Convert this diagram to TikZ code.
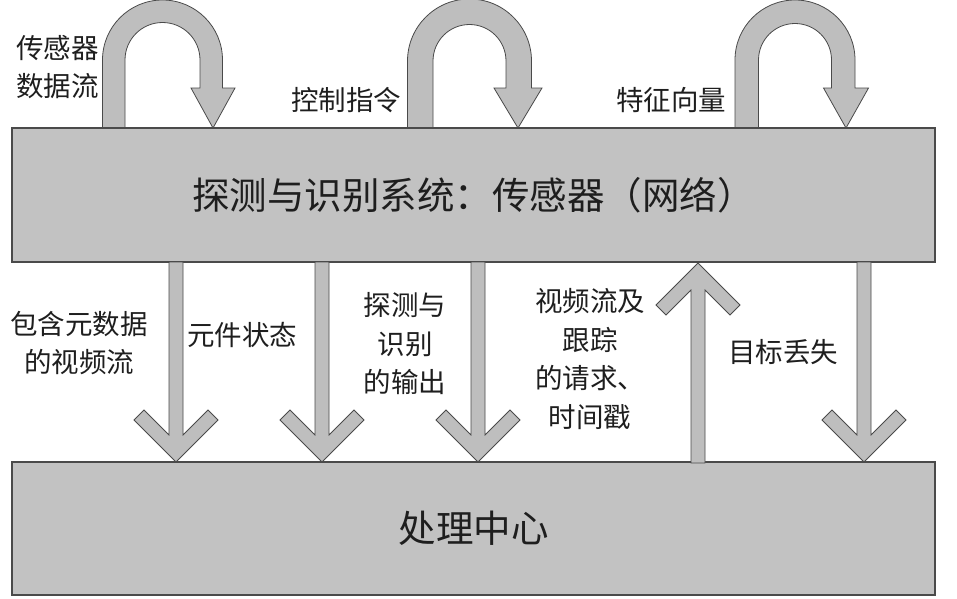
\documentclass[tikz,border=0pt]{standalone}
\usepackage{fontspec}
\setmainfont{Noto Sans CJK SC}
\definecolor{boxfill}{HTML}{C2C2C2}
\definecolor{arrfill}{HTML}{BEBEBE}
\definecolor{edge}{HTML}{4A4A4A}
\definecolor{ink}{HTML}{1E1E1E}
\tikzset{
  bigbox/.style={draw=edge, line width=1.2pt, fill=boxfill, minimum width=923pt, inner sep=0pt, text=ink, font=\fontsize{37.5}{42}\selectfont},
  arr/.style={draw=edge, line width=0.8pt, fill=arrfill, line join=miter},
  lbl/.style={text=ink, font=\fontsize{27.5}{38.5}\selectfont, inner sep=0pt, align=center},
  downarr/.pic={
    \draw[arr] (-7,-200) -- (-7,-27) -- (-32,-52) -- (-42,-42) -- (0,0) -- (42,-42) -- (32,-52) -- (7,-27) -- (7,-200) -- cycle;
  }
}
\newcommand\uloop[6]{% cx, cy, Ro, Ri, head center, head halfwidth
  \draw[arr] (#1-#3,128) -- (#1-#3,#2) arc[start angle=180, end angle=0, radius=#3pt]
    -- (#1+#3,88) -- (#5+#6,88) -- (#5,128) -- (#5-#6,88) -- (#1+#4,88)
    -- (#1+#4,#2) arc[start angle=0, end angle=180, radius=#4pt] -- (#1-#4,128) -- cycle;
}
\begin{document}
\begin{tikzpicture}[x=1pt,y=-1pt]
\useasboundingbox (0,0) rectangle (957,598);
% top loops
\uloop{162.5}{60}{60}{37.5}{213}{22}
\uloop{469.5}{61}{62}{36.5}{518}{24}
\uloop{795}{60}{60}{36.5}{846}{22.5}
% boxes
\node[bigbox, minimum height=134pt] (sys) at (473.5,195) {探测与识别系统：传感器（网络）};
\node[bigbox, minimum height=133pt] (pc) at (473.5,528.5) {处理中心};
% arrows between boxes
\pic at (176,462) {downarr};
\pic at (322,462) {downarr};
\pic at (478,462) {downarr};
\pic[rotate=180] at (698,263) {downarr};
\pic at (864,462) {downarr};
% labels
\node[lbl, anchor=west, align=left] (l1) at (16,67) {传感器\\数据流};
\node[lbl] (l2) at (346,100) {控制指令};
\node[lbl] (l3) at (671,100) {特征向量};
\node[lbl] (l4) at (79,343) {包含元数据\\的视频流};
\node[lbl] (l5) at (242,335) {元件状态};
\node[lbl] (l6) at (405,344) {探测与\\识别\\的输出};
\node[lbl] (l7) at (590,359) {视频流及\\跟踪\\的请求、\\时间戳};
\node[lbl] (l8) at (783,352) {目标丢失};
\end{tikzpicture}
\end{document}
